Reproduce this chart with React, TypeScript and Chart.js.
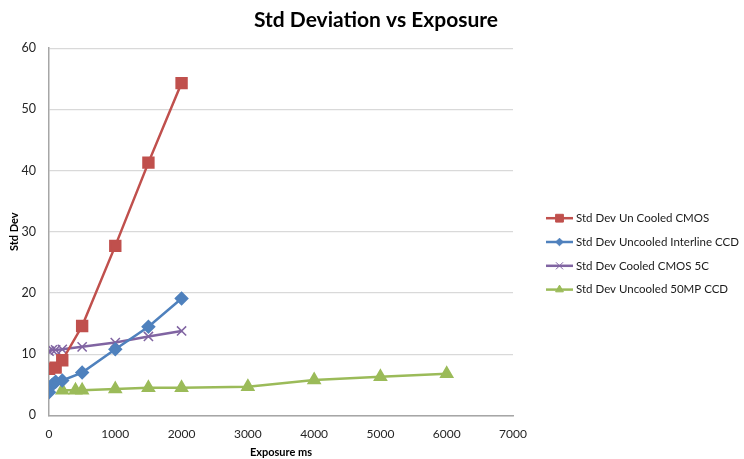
import React, { useEffect, useRef } from "react";
import { Chart, registerables, layouts } from "chart.js";
import { drawPoint } from "chart.js/helpers";

Chart.register(...registerables);

const seriesNames = [
  "Std Dev Un Cooled CMOS",
  "Std Dev Uncooled Interline CCD",
  "Std Dev Cooled CMOS 5C",
  "Std Dev Uncooled 50MP CCD",
];

const redX = [0, 100, 200, 500, 1000, 1500, 2000];
const redY = [7.6, 7.8, 9.0, 14.6, 27.7, 41.3, 54.3];

const blueX = [0, 50, 100, 200, 500, 1000, 1500, 2000];
const blueY = [3.8, 5.0, 5.5, 5.7, 7.0, 10.8, 14.5, 19.1];

const purpleX = [0, 50, 100, 200, 500, 1000, 1500, 2000];
const purpleY = [10.5, 10.7, 10.7, 10.8, 11.2, 11.9, 12.9, 13.8];

const greenX = [200, 400, 500, 1000, 1500, 2000, 3000, 4000, 5000, 6000];
const greenY = [4.1, 4.1, 4.1, 4.3, 4.5, 4.5, 4.7, 5.8, 6.3, 6.8];

const xTicks = [0, 1000, 2000, 3000, 4000, 5000, 6000, 7000];
const yTicks = [0, 10, 20, 30, 40, 50, 60];

const FONT = "Lato, 'Liberation Sans', sans-serif";

const toPoints = (xs: number[], ys: number[]) => xs.map((x, i) => ({ x, y: ys[i] }));

const LEGEND_WIDTH = 231;

const legendPlugin = {
  id: "customLegend",
  beforeInit(chart: any) {
    const box: any = {
      position: "right",
      weight: 100,
      fullSize: false,
      options: { display: true, stackWeight: 1 },
      width: 0,
      height: 0,
      left: 0,
      top: 0,
      right: 0,
      bottom: 0,
      isHorizontal() {
        return false;
      },
      update(_w: number, h: number) {
        this.width = LEGEND_WIDTH;
        this.height = h;
      },
      draw() {
        const ctx = chart.ctx;
        const startX = this.left + 33;
        const lineLen = 27;
        const textX = startX + 30;
        const firstRow = 170;
        const rowGap = 23.8;
        ctx.save();
        chart.data.datasets.forEach((ds: any, i: number) => {
          const y = this.top + firstRow + i * rowGap;
          ctx.strokeStyle = ds.borderColor;
          ctx.lineWidth = 2.5;
          ctx.beginPath();
          ctx.moveTo(startX, y);
          ctx.lineTo(startX + lineLen, y);
          ctx.stroke();
          ctx.fillStyle = ds.pointBackgroundColor;
          ctx.strokeStyle = ds.pointBorderColor;
          ctx.lineWidth = 1;
          drawPoint(
            ctx,
            {
              pointStyle: ds.pointStyle,
              radius: ds.legendRadius,
              rotation: 0,
              borderWidth: ds.pointStyle === "crossRot" ? 1.2 : 1,
            } as any,
            startX + lineLen / 2,
            y
          );
          ctx.fillStyle = "#1a1a1a";
          ctx.font = `11.5px ${FONT}`;
          ctx.textAlign = "left";
          ctx.textBaseline = "middle";
          ctx.fillText(ds.label, textX, y);
        });
        ctx.restore();
      },
    };
    layouts.addBox(chart, box);
  },
};

export default function App() {
  const canvasRef = useRef<HTMLCanvasElement | null>(null);

  useEffect(() => {
    document.body.style.margin = "0";
    const canvas = canvasRef.current!;
    const chart = new Chart(canvas, {
      type: "line",
      data: {
        datasets: [
          {
            label: seriesNames[0],
            data: toPoints(redX, redY),
            borderColor: "#C0504D",
            backgroundColor: "#C0504D",
            pointBackgroundColor: "#C0504D",
            pointBorderColor: "#C0504D",
            pointStyle: "rect",
            pointRadius: 7,
            borderWidth: 2.5,
            legendRadius: 5.5,
          } as any,
          {
            label: seriesNames[1],
            data: toPoints(blueX, blueY),
            borderColor: "#4F81BD",
            backgroundColor: "#4F81BD",
            pointBackgroundColor: "#4F81BD",
            pointBorderColor: "#4F81BD",
            pointStyle: "rectRot",
            pointRadius: 5.5,
            borderWidth: 2.5,
            legendRadius: 3.8,
          } as any,
          {
            label: seriesNames[2],
            data: toPoints(purpleX, purpleY),
            borderColor: "#8064A2",
            backgroundColor: "#8064A2",
            pointBackgroundColor: "#8064A2",
            pointBorderColor: "#8064A2",
            pointStyle: "crossRot",
            pointRadius: 6.5,
            pointBorderWidth: 1.5,
            borderWidth: 2.5,
            legendRadius: 5,
          } as any,
          {
            label: seriesNames[3],
            data: toPoints(greenX, greenY),
            borderColor: "#9BBB59",
            backgroundColor: "#9BBB59",
            pointBackgroundColor: "#9BBB59",
            pointBorderColor: "#9BBB59",
            pointStyle: "triangle",
            pointRadius: 6,
            borderWidth: 2.5,
            legendRadius: 4.5,
          } as any,
        ],
      },
      options: {
        animation: false,
        responsive: false,
        devicePixelRatio: 1,
        layout: { padding: { left: 8, right: 0, top: 0, bottom: 0 } },
        plugins: {
          legend: { display: false },
          tooltip: { enabled: false },
          title: {
            display: true,
            text: "Std Deviation vs Exposure",
            color: "#000",
            font: { family: FONT, size: 21, weight: "bold" },
            padding: { top: 8, bottom: 15 },
          },
        },
        scales: {
          x: {
            type: "linear",
            min: 0,
            max: 7000,
            afterBuildTicks: (axis: any) => {
              axis.ticks = xTicks.map((v) => ({ value: v }));
            },
            grid: { display: false },
            border: { display: true, color: "#A6A6A6", width: 1.5 },
            ticks: {
              color: "#262626",
              font: { family: FONT, size: 12 },
              padding: 4,
              maxRotation: 0,
              autoSkip: false,
              callback: (v: any) => String(v),
            },
            title: {
              display: true,
              text: "Exposure ms",
              color: "#000",
              font: { family: FONT, size: 11, weight: "bold" },
              padding: { top: 0, bottom: 0 },
            },
          },
          y: {
            type: "linear",
            min: 0,
            max: 60,
            afterBuildTicks: (axis: any) => {
              axis.ticks = yTicks.map((v) => ({ value: v }));
            },
            afterFit: (axis: any) => {
              axis.width = 41;
            },
            grid: { color: "#D9D9D9", lineWidth: 1.2, drawTicks: false },
            border: { display: true, color: "#A6A6A6", width: 1.5 },
            ticks: {
              color: "#262626",
              font: { family: FONT, size: 12.5 },
              padding: 13,
            },
            title: {
              display: true,
              text: "Std Dev",
              color: "#000",
              font: { family: FONT, size: 11, weight: "bold" },
              padding: { top: 0, bottom: 0 },
            },
          },
        },
      },
      plugins: [legendPlugin],
    });
    return () => chart.destroy();
  }, []);

  return (
    <div style={{ width: 744, height: 459, background: "#fff" }}>
      <canvas ref={canvasRef} width={744} height={459} style={{ width: 744, height: 459, display: "block" }} />
    </div>
  );
}
